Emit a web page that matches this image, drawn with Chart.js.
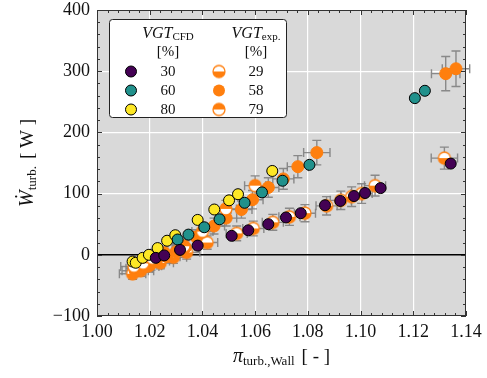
<!DOCTYPE html>
<html>
<head>
<meta charset="utf-8">
<script src="https://cdn.jsdelivr.net/npm/chart.js@4.4.1/dist/chart.umd.min.js"></script>
<style>
    html, body { margin: 0; padding: 0; background: #fff; }
    #wrap { width: 487px; height: 378px; position: relative; }
</style>
</head>
<body>
<div id="wrap"><canvas id="turbine-chart"></canvas></div>
<script>
// Turbine power vs. pressure ratio - CFD and measurements for three VGT positions

// CFD, VGT 30 %
const x30 = [1.0223, 1.0255, 1.0315, 1.0382, 1.0511, 1.0574, 1.0650, 1.0717, 1.0773, 1.0865, 1.0923, 1.0975, 1.1017, 1.1076, 1.1342];
const w30 = [-5, -1, 8, 15, 31, 40, 50, 61, 68, 81, 88, 96, 101, 109, 149];

// CFD, VGT 60 %
const x60 = [1.0306, 1.0347, 1.0407, 1.0465, 1.0560, 1.0626, 1.0704, 1.0806, 1.1206, 1.1244];
const w60 = [25, 33, 45, 58, 85, 102, 121, 147, 256, 268];

// CFD, VGT 80 %
const x80 = [1.0135, 1.0147, 1.0173, 1.0197, 1.0230, 1.0266, 1.0297, 1.0382, 1.0445, 1.0501, 1.0535, 1.0665];
const w80 = [-11, -13, -5, 0, 11, 23, 32, 57, 74, 89, 99, 137];

// Messung, VGT 29 %
const x29 = [1.0135, 1.0165, 1.0195, 1.0240, 1.0290, 1.0340, 1.0418, 1.0530, 1.0593, 1.0667, 1.0730, 1.0789, 1.0871, 1.0925, 1.0966, 1.1004, 1.1055, 1.1318];
const w29 = [-31, -26, -18, -13, -4, 4, 20, 35, 43, 53, 62, 68, 80, 89, 95, 100, 113, 158];
const ex29 = [0.005, 0.005, 0.005, 0.005, 0.005, 0.005, 0.004, 0.004, 0.004, 0.004, 0.004, 0.004, 0.004, 0.004, 0.004, 0.004, 0.004, 0.005];
const ey29 = [9, 9, 10, 10, 10, 11, 11, 12, 12, 13, 14, 14, 15, 15, 16, 16, 17, 18];

// Messung, VGT 58 %
const x58 = [1.0145, 1.0160, 1.0185, 1.0205, 1.0225, 1.0265, 1.0300, 1.0335, 1.0376, 1.0444, 1.0490, 1.0548, 1.0590, 1.0650, 1.0707, 1.0762, 1.0834, 1.1323, 1.1362];
const w58 = [-26, -22, -19, -15, -10, -3, 5, 12, 29, 47, 60, 74, 90, 110, 124, 144, 167, 296, 304];
const ex58 = [0.005, 0.005, 0.005, 0.005, 0.005, 0.005, 0.005, 0.005, 0.004, 0.004, 0.004, 0.004, 0.004, 0.004, 0.004, 0.004, 0.005, 0.0054, 0.0052];
const ey58 = [9, 9, 9, 10, 10, 10, 11, 11, 12, 13, 13, 14, 15, 16, 17, 18, 20, 28, 29];

// Messung, VGT 79 %
const x79 = [1.0140, 1.0175, 1.0210, 1.0255, 1.0330, 1.0400, 1.0489, 1.0600];
const w79 = [-19, -14, -6, 3, 14, 38, 75, 113];
const ex79 = [0.005, 0.005, 0.005, 0.005, 0.004, 0.004, 0.004, 0.004];
const ey79 = [9, 9, 10, 10, 11, 12, 14, 16];

const ORANGE = '#ff7f0e';
const C30 = '#440154';
const C60 = '#21918c';
const C80 = '#fde725';
const ERR_COLOR = 'rgba(128, 128, 128, 0.9)';
const SERIF = '"Liberation Serif", "DejaVu Serif", serif';

function pts(xs, ys) {
    return xs.map((v, i) => ({ x: v, y: ys[i] }));
}

function isMajorX(v) {
    return Math.abs(v * 50 - Math.round(v * 50)) < 1e-6;
}

function isMajorY(v) {
    return Math.abs(v / 100 - Math.round(v / 100)) < 1e-6;
}

// halb gefuellter Kreis als pointStyle
function makeHalfMarker(half) {
    const r = 6, lw = 1.3;
    const size = Math.ceil(2 * r + 2 * lw) + 1;
    const c = document.createElement('canvas');
    c.width = c.height = size;
    const g = c.getContext('2d');
    const m = size / 2;
    g.beginPath();
    g.arc(m, m, r, 0, 2 * Math.PI);
    g.fillStyle = '#fff';
    g.fill();
    g.save();
    g.beginPath();
    g.arc(m, m, r, 0, 2 * Math.PI);
    g.clip();
    g.fillStyle = ORANGE;
    if (half === 'top') g.fillRect(0, 0, size, m);
    else g.fillRect(0, m, size, size);
    g.restore();
    g.beginPath();
    g.arc(m, m, r, 0, 2 * Math.PI);
    g.strokeStyle = ORANGE;
    g.lineWidth = lw;
    g.stroke();
    return c;
}

const markerBottom = makeHalfMarker('bottom');
const markerTop = makeHalfMarker('top');

// Text mit Tiefstellung
function drawRich(ctx, parts, x, y) {
    let total = 0;
    parts.forEach(p => {
        ctx.font = p.font;
        p.w = ctx.measureText(p.text).width;
        total += p.w + (p.gap || 0);
    });
    let cx = x - total / 2;
    parts.forEach(p => {
        ctx.font = p.font;
        ctx.fillText(p.text, cx, y + (p.dy || 0));
        cx += p.w + (p.gap || 0);
    });
}

const backgroundPlugin = {
    id: 'plotBackground',
    beforeDraw(chart) {
        const { ctx, chartArea: a } = chart;
        ctx.save();
        ctx.fillStyle = '#fff';
        ctx.fillRect(0, 0, chart.width, chart.height);
        ctx.fillStyle = '#d9d9d9';
        ctx.fillRect(a.left, a.top, a.right - a.left, a.bottom - a.top);
        ctx.restore();
    }
};

const errorBarPlugin = {
    id: 'errorBars',
    beforeDatasetsDraw(chart) {
        const { ctx, scales: { x, y } } = chart;
        const cap = 4.5;
        ctx.save();
        ctx.strokeStyle = ERR_COLOR;
        ctx.lineWidth = 1.4;
        chart.data.datasets.forEach(ds => {
            if (!ds.errX) return;
            ds.data.forEach((p, i) => {
                const px = x.getPixelForValue(p.x);
                const py = y.getPixelForValue(p.y);
                const xl = x.getPixelForValue(p.x - ds.errX[i]);
                const xr = x.getPixelForValue(p.x + ds.errX[i]);
                const yb = y.getPixelForValue(p.y - ds.errY[i]);
                const yt = y.getPixelForValue(p.y + ds.errY[i]);
                ctx.beginPath();
                ctx.moveTo(xl, py); ctx.lineTo(xr, py);
                ctx.moveTo(xl, py - cap); ctx.lineTo(xl, py + cap);
                ctx.moveTo(xr, py - cap); ctx.lineTo(xr, py + cap);
                ctx.moveTo(px, yb); ctx.lineTo(px, yt);
                ctx.moveTo(px - cap, yb); ctx.lineTo(px + cap, yb);
                ctx.moveTo(px - cap, yt); ctx.lineTo(px + cap, yt);
                ctx.stroke();
            });
        });
        ctx.restore();
    }
};

// Rahmen, Ticks nach innen, Achsentitel, Legende
const framePlugin = {
    id: 'frameAndLegend',
    afterDraw(chart) {
        const { ctx, chartArea: a, scales: { x, y } } = chart;
        ctx.save();
        ctx.strokeStyle = '#333';
        ctx.lineWidth = 1;
        x.ticks.forEach(t => {
            const px = Math.round(x.getPixelForValue(t.value)) + 0.5;
            const len = isMajorX(t.value) ? 5 : 3;
            ctx.beginPath();
            ctx.moveTo(px, a.bottom); ctx.lineTo(px, a.bottom - len);
            ctx.moveTo(px, a.top); ctx.lineTo(px, a.top + len);
            ctx.stroke();
        });
        y.ticks.forEach(t => {
            const py = Math.round(y.getPixelForValue(t.value)) + 0.5;
            const len = isMajorY(t.value) ? 5 : 3;
            ctx.beginPath();
            ctx.moveTo(a.left, py); ctx.lineTo(a.left + len, py);
            ctx.moveTo(a.right, py); ctx.lineTo(a.right - len, py);
            ctx.stroke();
        });
        ctx.strokeRect(a.left + 0.5, a.top + 0.5, a.right - a.left - 1, a.bottom - a.top - 1);

        // Achsentitel
        ctx.fillStyle = '#111';
        ctx.textAlign = 'left';
        ctx.textBaseline = 'alphabetic';
        drawRich(ctx, [
            { text: '\u03c0', font: 'italic 20px ' + SERIF },
            { text: 'turb.,Wall', font: '13px ' + SERIF, dy: 3, gap: 7 },
            { text: '[ - ]', font: '19px ' + SERIF }
        ], (a.left + a.right) / 2, 362);

        ctx.save();
        ctx.translate(33, (a.top + a.bottom) / 2);
        ctx.rotate(-Math.PI / 2);
        drawRich(ctx, [
            { text: '\u1e86', font: 'italic 20px ' + SERIF },
            { text: 'turb.', font: '13px ' + SERIF, dy: 3, gap: 7 },
            { text: '[ W ]', font: '19px ' + SERIF }
        ], 0, 0);
        ctx.restore();

        // Legende
        const bx = 109.5, by = 19.5, bw = 177, bh = 98;
        ctx.beginPath();
        ctx.roundRect(bx, by, bw, bh, 3);
        ctx.fillStyle = '#fff';
        ctx.fill();
        ctx.strokeStyle = '#222';
        ctx.lineWidth = 1;
        ctx.stroke();

        ctx.fillStyle = '#111';
        drawRich(ctx, [
            { text: 'VGT', font: 'italic 16px ' + SERIF },
            { text: 'CFD', font: '11px ' + SERIF, dy: 2 }
        ], 168, 37.5);
        drawRich(ctx, [
            { text: 'VGT', font: 'italic 16px ' + SERIF },
            { text: 'exp.', font: '11px ' + SERIF, dy: 2 }
        ], 256, 37.5);

        ctx.textAlign = 'center';
        ctx.font = '15px ' + SERIF;
        ctx.fillText('[%]', 168, 55.5);
        ctx.fillText('[%]', 256, 55.5);

        const rows = [
            { cfd: '30', col: C30, exp: '29', img: markerBottom, yc: 71.5 },
            { cfd: '60', col: C60, exp: '58', img: null, yc: 90.5 },
            { cfd: '80', col: C80, exp: '79', img: markerTop, yc: 109.5 }
        ];
        rows.forEach(r => {
            ctx.beginPath();
            ctx.arc(131, r.yc, 5.5, 0, 2 * Math.PI);
            ctx.fillStyle = r.col;
            ctx.fill();
            ctx.strokeStyle = '#000';
            ctx.lineWidth = 1;
            ctx.stroke();
            if (r.img) {
                ctx.drawImage(r.img, 219 - r.img.width / 2, r.yc - r.img.height / 2);
            } else {
                ctx.beginPath();
                ctx.arc(219, r.yc, 6, 0, 2 * Math.PI);
                ctx.fillStyle = ORANGE;
                ctx.fill();
            }
            ctx.fillStyle = '#111';
            ctx.font = '15px ' + SERIF;
            ctx.fillText(r.cfd, 168, r.yc + 4.5);
            ctx.fillText(r.exp, 256, r.yc + 4.5);
        });
        ctx.restore();
    }
};

const cfdStyle = (color) => ({
    pointStyle: 'circle',
    pointRadius: 5.5,
    pointBackgroundColor: color,
    pointBorderColor: '#000',
    pointBorderWidth: 1,
    showLine: false
});

new Chart(document.getElementById('turbine-chart'), {
    type: 'scatter',
    data: {
        datasets: [
            { label: 'CFD 30', data: pts(x30, w30), ...cfdStyle(C30) },
            { label: 'CFD 60', data: pts(x60, w60), ...cfdStyle(C60) },
            { label: 'CFD 80', data: pts(x80, w80), ...cfdStyle(C80) },
            {
                label: 'exp 79', data: pts(x79, w79), errX: ex79, errY: ey79,
                pointStyle: markerTop, pointRadius: 6, showLine: false
            },
            {
                label: 'exp 58', data: pts(x58, w58), errX: ex58, errY: ey58,
                pointStyle: 'circle', pointRadius: 6,
                pointBackgroundColor: ORANGE, pointBorderColor: ORANGE, pointBorderWidth: 1,
                showLine: false
            },
            {
                label: 'exp 29', data: pts(x29, w29), errX: ex29, errY: ey29,
                pointStyle: markerBottom, pointRadius: 6, showLine: false
            }
        ]
    },
    options: {
        responsive: true,
        maintainAspectRatio: false,
        animation: false,
        layout: {
            autoPadding: false,
            padding: { left: 0, top: 10, right: 21, bottom: 0 }
        },
        plugins: {
            legend: { display: false },
            tooltip: { enabled: false }
        },
        scales: {
            x: {
                type: 'linear',
                min: 1.0,
                max: 1.14,
                afterFit: s => { s.height = 62; s.paddingLeft = 0; s.paddingRight = 0; },
                border: { display: false },
                grid: {
                    drawTicks: false,
                    color: c => isMajorX(c.tick.value) ? '#ffffff' : 'rgba(0,0,0,0)',
                    lineWidth: 1.2
                },
                ticks: {
                    stepSize: 0.004,
                    autoSkip: false,
                    maxRotation: 0,
                    padding: 5,
                    color: '#111',
                    font: { family: SERIF, size: 18 },
                    callback: v => isMajorX(v) ? v.toFixed(2) : ''
                }
            },
            y: {
                type: 'linear',
                min: -100,
                max: 400,
                afterFit: s => { s.width = 97; s.paddingTop = 0; s.paddingBottom = 0; },
                border: { display: false },
                grid: {
                    drawTicks: false,
                    color: c => c.tick.value === 0 ? '#000000' : (isMajorY(c.tick.value) ? '#ffffff' : 'rgba(0,0,0,0)'),
                    lineWidth: c => c.tick.value === 0 ? 1.4 : 1.2
                },
                ticks: {
                    stepSize: 20,
                    autoSkip: false,
                    padding: 7,
                    color: '#111',
                    font: { family: SERIF, size: 18 },
                    callback: v => isMajorY(v) ? (v < 0 ? '\u2212' + Math.abs(v) : String(v)) : ''
                }
            }
        }
    },
    plugins: [backgroundPlugin, errorBarPlugin, framePlugin]
});
</script>
</body>
</html>
